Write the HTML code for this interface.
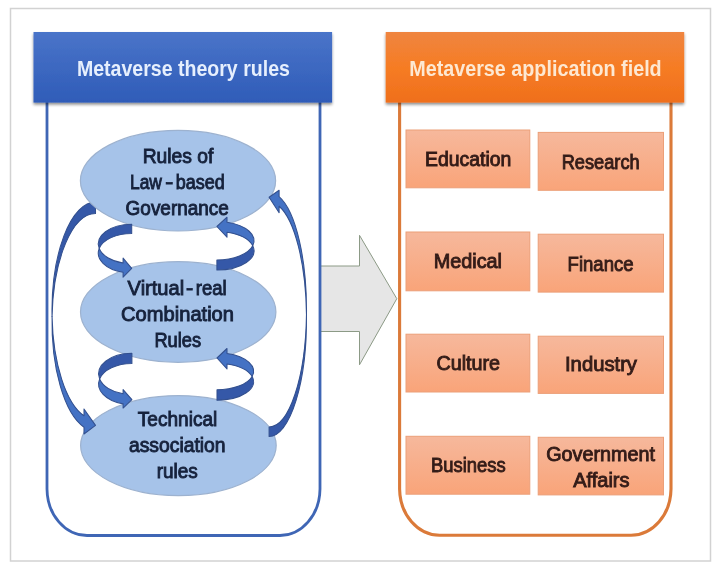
<!DOCTYPE html>
<html>
<head>
<meta charset="utf-8">
<title>Metaverse rules</title>
<style>
html,body{margin:0;padding:0;background:#ffffff;}
body{width:720px;height:571px;overflow:hidden;font-family:"Liberation Sans",sans-serif;}
svg{display:block;filter:blur(0.45px);}
text{font-family:"Liberation Sans",sans-serif;}
</style>
</head>
<body>
<svg width="720" height="571" viewBox="0 0 720 571">
<defs>
  <linearGradient id="gBlue" x1="0" y1="0" x2="0" y2="1">
    <stop offset="0" stop-color="#4a74c9"/>
    <stop offset="1" stop-color="#2f5cb8"/>
  </linearGradient>
  <linearGradient id="gOrange" x1="0" y1="0" x2="0" y2="1">
    <stop offset="0" stop-color="#ef8540"/>
    <stop offset="0.5" stop-color="#f67c24"/>
    <stop offset="1" stop-color="#ef6f1c"/>
  </linearGradient>
  <linearGradient id="gCell" x1="0" y1="0" x2="0" y2="1">
    <stop offset="0" stop-color="#f6b89c"/>
    <stop offset="1" stop-color="#f9a479"/>
  </linearGradient>
  <filter id="shadow" x="-5%" y="-10%" width="110%" height="130%">
    <feGaussianBlur in="SourceAlpha" stdDeviation="1.6"/>
    <feOffset dx="0" dy="2"/>
    <feComponentTransfer><feFuncA type="linear" slope="0.45"/></feComponentTransfer>
    <feMerge><feMergeNode/><feMergeNode in="SourceGraphic"/></feMerge>
  </filter>
</defs>

<!-- outer frame -->
<rect x="10.5" y="8.5" width="700" height="552.5" fill="#ffffff" stroke="#d2d2d2" stroke-width="1.5"/>

<!-- big grey arrow -->
<path d="M320 266 H359.5 V235.3 L396.8 298.7 L359.5 364.8 V331.5 H320 Z" fill="#e6e6e6" stroke="#8c9a86" stroke-width="1"/>

<!-- left container -->
<path d="M47 100 V489 A40 47 0 0 0 87 535.5 H280 A40 47 0 0 0 320 489 V100" fill="none" stroke="#3f66b5" stroke-width="2.8"/>
<!-- right container -->
<path d="M399.6 100 V489 A40 47 0 0 0 439.6 535.3 H631 A40 47 0 0 0 671 489 V100" fill="none" stroke="#db7a39" stroke-width="3.1"/>

<!-- headers -->
<rect x="33.5" y="32" width="298.6" height="70.6" fill="url(#gBlue)" filter="url(#shadow)"/>
<rect x="385.7" y="32" width="298.5" height="70.6" fill="url(#gOrange)" filter="url(#shadow)"/>
<text x="76.9" y="75.8" font-size="22.8" font-weight="700" fill="#e6effd" textLength="213" lengthAdjust="spacingAndGlyphs">Metaverse theory rules</text>
<text x="409.2" y="75.8" font-size="22.8" font-weight="700" fill="#fde8d2" textLength="252.5" lengthAdjust="spacingAndGlyphs">Metaverse application field</text>


<!-- ellipses -->
<g fill="#a6c3e9" stroke="#9db2cf" stroke-width="1.2">
  <ellipse cx="178.2" cy="312" rx="97.7" ry="50.3"/>
  <ellipse cx="178.4" cy="445.6" rx="97.8" ry="50"/>
</g>
<g id="ll" stroke="#33508f" stroke-width="1.05" stroke-linejoin="round"><path d="M52.06,316.55 A43.5,108.8 0 0 0 84,427.23 L84,434.03 L95.5,425.35 L84,408.93 L84,415.73 A43.5,108.8 0 0 1 52.06,316.55 Z" fill="#4472c4"/><path d="M95.5,202 A43.5,108.8 0 0 0 52.06,316.55 A43.5,108.8 0 0 1 95.5,213.5 Z" fill="#3558a8"/></g>
<ellipse cx="178" cy="180.7" rx="97.6" ry="50.3" fill="#a6c3e9" stroke="#9db2cf" stroke-width="1.2"/>

<!-- curved arrows -->
<g id="sl1" stroke="#33508f" stroke-width="1.05" stroke-linejoin="round"><path d="M99.22,248.55 A33.4,19.75 0 0 0 123.1,272.23 L123.1,277.13 L131.7,268.3 L123.1,258.13 L123.1,263.03 A33.4,19.75 0 0 1 99.22,248.55 Z" fill="#4472c4"/><path d="M131.7,224.2 A33.4,19.75 0 0 0 99.22,248.55 A33.4,19.75 0 0 1 131.7,233.4 Z" fill="#3558a8"/></g>
<g id="sl2" stroke="#33508f" stroke-width="1.05" stroke-linejoin="round"><path d="M99.62,378.95 A33.3,20.6 0 0 0 123.1,403.87 L123.1,408.07 L131.9,399.55 L123.1,389.57 L123.1,393.77 A33.3,20.6 0 0 1 99.62,378.95 Z" fill="#4472c4"/><path d="M131.9,353.3 A33.3,20.6 0 0 0 99.62,378.95 A33.3,20.6 0 0 1 131.9,363.4 Z" fill="#3558a8"/></g>
<g id="sr1" transform="rotate(180)" stroke="#33508f" stroke-width="1.05" stroke-linejoin="round"><path d="M-252.73,-245.75 A37.1,19.25 0 0 0 -227,-222.23 L-227,-217.23 L-216.9,-226.5 L-227,-237.23 L-227,-232.23 A37.1,19.25 0 0 1 -252.73,-245.75 Z" fill="#4472c4"/><path d="M-216.9,-270 A37.1,19.25 0 0 0 -252.73,-245.75 A37.1,19.25 0 0 1 -216.9,-260 Z" fill="#3558a8"/></g>
<g id="sr2" transform="rotate(180)" stroke="#33508f" stroke-width="1.05" stroke-linejoin="round"><path d="M-252.12,-376.5 A36.6,18.5 0 0 0 -227,-353.5 L-227,-348.5 L-217,-358 L-227,-368.9 L-227,-363.9 A36.6,18.5 0 0 1 -252.12,-376.5 Z" fill="#4472c4"/><path d="M-217,-400.2 A36.6,18.5 0 0 0 -252.12,-376.5 A36.6,18.5 0 0 1 -217,-389.8 Z" fill="#3558a8"/></g>
<g id="lr" transform="rotate(180)" stroke="#33508f" stroke-width="1.05" stroke-linejoin="round"><path d="M-306.47,-314.45 A37.4,117.25 0 0 0 -279.1,-196.67 L-279.1,-190.27 L-269.1,-197.2 L-279.1,-212.67 L-279.1,-206.27 A37.4,117.25 0 0 1 -306.47,-314.45 Z" fill="#4472c4"/><path d="M-269.1,-436.5 A37.4,117.25 0 0 0 -306.47,-314.45 A37.4,117.25 0 0 1 -269.1,-426.9 Z" fill="#3558a8"/></g>
<!-- ellipse labels -->
<text x="142.7" y="163.2" font-size="19.6" font-weight="400" fill="#16223c" stroke="#16223c" stroke-width="0.9" textLength="70.6" lengthAdjust="spacingAndGlyphs">Rules of</text>
<text x="130.0" y="189.4" font-size="19.6" font-weight="400" fill="#16223c" stroke="#16223c" stroke-width="0.9" textLength="31.9" lengthAdjust="spacingAndGlyphs">Law</text>
<text x="165.2" y="189.4" font-size="19.6" font-weight="400" fill="#16223c" stroke="#16223c" stroke-width="0.9" textLength="8.0" lengthAdjust="spacingAndGlyphs">-</text>
<text x="175.8" y="189.4" font-size="19.6" font-weight="400" fill="#16223c" stroke="#16223c" stroke-width="0.9" textLength="49.0" lengthAdjust="spacingAndGlyphs">based</text>
<text x="125.6" y="215.4" font-size="19.6" font-weight="400" fill="#16223c" stroke="#16223c" stroke-width="0.9" textLength="103.3" lengthAdjust="spacingAndGlyphs">Governance</text>
<text x="127.6" y="295.0" font-size="19.6" font-weight="400" fill="#16223c" stroke="#16223c" stroke-width="0.9" textLength="56.6" lengthAdjust="spacingAndGlyphs">Virtual</text>
<text x="186.0" y="295.0" font-size="19.6" font-weight="400" fill="#16223c" stroke="#16223c" stroke-width="0.9" textLength="7.2" lengthAdjust="spacingAndGlyphs">-</text>
<text x="195.8" y="295.0" font-size="19.6" font-weight="400" fill="#16223c" stroke="#16223c" stroke-width="0.9" textLength="30.9" lengthAdjust="spacingAndGlyphs">real</text>
<text x="121.1" y="321.2" font-size="19.6" font-weight="400" fill="#16223c" stroke="#16223c" stroke-width="0.9" textLength="112.9" lengthAdjust="spacingAndGlyphs">Combination</text>
<text x="154.4" y="346.8" font-size="19.6" font-weight="400" fill="#16223c" stroke="#16223c" stroke-width="0.9" textLength="46.7" lengthAdjust="spacingAndGlyphs">Rules</text>
<text x="137.8" y="426.1" font-size="19.6" font-weight="400" fill="#16223c" stroke="#16223c" stroke-width="0.9" textLength="79.5" lengthAdjust="spacingAndGlyphs">Technical</text>
<text x="128.9" y="452.3" font-size="19.6" font-weight="400" fill="#16223c" stroke="#16223c" stroke-width="0.9" textLength="96.7" lengthAdjust="spacingAndGlyphs">association</text>
<text x="156.7" y="477.7" font-size="19.6" font-weight="400" fill="#16223c" stroke="#16223c" stroke-width="0.9" textLength="41.1" lengthAdjust="spacingAndGlyphs">rules</text>

<!-- cells -->
<g fill="url(#gCell)" stroke="#ec9f78" stroke-width="1">
  <rect x="406" y="130" width="123.8" height="57.8"/>
  <rect x="538.2" y="132.4" width="125.3" height="57.9"/>
  <rect x="406" y="232" width="123.8" height="58.8"/>
  <rect x="538.2" y="234.2" width="125.3" height="57.9"/>
  <rect x="406" y="334.2" width="123.8" height="57.8"/>
  <rect x="538.2" y="336.2" width="125.3" height="57.2"/>
  <rect x="406" y="436.3" width="123.8" height="57.9"/>
  <rect x="538.2" y="437.3" width="125.3" height="57.6"/>
</g>
<text x="425.1" y="166.3" font-size="19.6" font-weight="400" fill="#341c18" stroke="#341c18" stroke-width="0.9" textLength="86.3" lengthAdjust="spacingAndGlyphs">Education</text>
<text x="561.7" y="168.8" font-size="19.6" font-weight="400" fill="#341c18" stroke="#341c18" stroke-width="0.9" textLength="78.0" lengthAdjust="spacingAndGlyphs">Research</text>
<text x="433.7" y="268.2" font-size="19.6" font-weight="400" fill="#341c18" stroke="#341c18" stroke-width="0.9" textLength="68.3" lengthAdjust="spacingAndGlyphs">Medical</text>
<text x="567.6" y="270.9" font-size="19.6" font-weight="400" fill="#341c18" stroke="#341c18" stroke-width="0.9" textLength="66.0" lengthAdjust="spacingAndGlyphs">Finance</text>
<text x="436.4" y="370.2" font-size="19.6" font-weight="400" fill="#341c18" stroke="#341c18" stroke-width="0.9" textLength="63.7" lengthAdjust="spacingAndGlyphs">Culture</text>
<text x="565.0" y="371.4" font-size="19.6" font-weight="400" fill="#341c18" stroke="#341c18" stroke-width="0.9" textLength="72.0" lengthAdjust="spacingAndGlyphs">Industry</text>
<text x="431.1" y="472.0" font-size="19.6" font-weight="400" fill="#341c18" stroke="#341c18" stroke-width="0.9" textLength="74.6" lengthAdjust="spacingAndGlyphs">Business</text>
<text x="546.2" y="461.1" font-size="19.6" font-weight="400" fill="#341c18" stroke="#341c18" stroke-width="0.9" textLength="108.8" lengthAdjust="spacingAndGlyphs">Government</text>
<text x="573.2" y="487.0" font-size="19.6" font-weight="400" fill="#341c18" stroke="#341c18" stroke-width="0.9" textLength="56.3" lengthAdjust="spacingAndGlyphs">Affairs</text>
</svg>
</body>
</html>
